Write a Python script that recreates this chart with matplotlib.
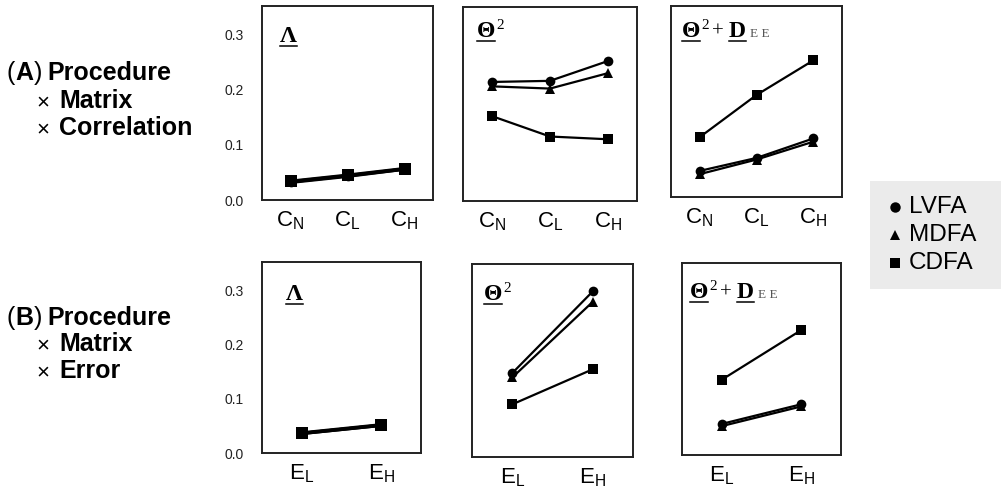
import matplotlib
matplotlib.use("Agg")
import matplotlib.pyplot as plt
from matplotlib.lines import Line2D
from matplotlib.patches import Rectangle
from matplotlib.transforms import IdentityTransform

plt.rcParams["font.family"] = ["Liberation Sans", "DejaVu Sans"]
plt.rcParams["mathtext.default"] = "regular"

W, H = 1001, 490

# categories
c_levels = ["$C_N$", "$C_L$", "$C_H$"]
e_levels = ["$E_L$", "$E_H$"]
methods = ["LVFA", "MDFA", "CDFA"]

# (A) procedure x matrix x correlation
lambda_c_lvfa = [0.032, 0.043, 0.056]
lambda_c_mdfa = [0.033, 0.044, 0.056]
lambda_c_cdfa = [0.034, 0.045, 0.057]
theta_c_lvfa = [0.216, 0.218, 0.254]
theta_c_mdfa = [0.208, 0.204, 0.232]
theta_c_cdfa = [0.154, 0.117, 0.112]
thetad_c_lvfa = [0.048, 0.072, 0.108]
thetad_c_mdfa = [0.042, 0.069, 0.102]
thetad_c_cdfa = [0.110, 0.188, 0.252]

# (B) procedure x matrix x error
lambda_e_lvfa = [0.036, 0.051]
lambda_e_mdfa = [0.036, 0.051]
lambda_e_cdfa = [0.037, 0.052]
theta_e_lvfa = [0.153, 0.302]
theta_e_mdfa = [0.145, 0.283]
theta_e_cdfa = [0.096, 0.160]
thetad_e_lvfa = [0.057, 0.093]
thetad_e_mdfa = [0.053, 0.089]
thetad_e_cdfa = [0.138, 0.229]

fig = plt.figure(figsize=(W / 100, H / 100), dpi=100, facecolor="white")
renderer = fig.canvas.get_renderer()


def add_box(left, top, right, bottom):
    return fig.add_axes([left / W, 1 - bottom / H, (right - left) / W, (bottom - top) / H])


def draw_panel(ax, levels, series, lw=1.6, msq=6.5, yticks=False):
    x = list(range(len(levels)))
    mk = {"LVFA": ("o", 7), "MDFA": ("^", 7.5), "CDFA": ("s", msq)}
    for name in ["MDFA", "LVFA", "CDFA"]:
        m, s = mk[name]
        ax.plot(x, series[name], color="black", lw=lw, marker=m, markersize=s,
                markeredgewidth=0, solid_capstyle="butt")
    ax.set_xlim(-0.5, len(levels) - 0.5)
    ax.set_ylim(0, 0.352)
    ax.set_xticks(x)
    ax.set_xticklabels(levels, fontsize=16)
    ax.tick_params(axis="x", length=0, pad=7)
    ax.set_yticks([0, 0.1, 0.2, 0.3])
    if yticks:
        ax.set_yticklabels(["0.0", "0.1", "0.2", "0.3"], fontsize=10, color="#222222")
        ax.tick_params(axis="y", length=0, pad=13)
    else:
        ax.tick_params(axis="y", length=0, labelleft=False)
    for sp in ax.spines.values():
        sp.set_linewidth(1.4)
        sp.set_color("#222222")


def text_run(x, base, pieces, family=None, underline_y=None):
    # pieces: (text, size, weight, rise, color, gap_before, underline); x, base in pixels from bottom-left
    for txt, size, weight, rise, color, gap, under in pieces:
        x += gap
        kw = {"family": family} if family else {}
        t = fig.text(x, base + rise, txt, transform=IdentityTransform(), fontsize=size,
                     fontweight=weight, color=color, ha="left", va="baseline", **kw)
        ext = t.get_window_extent(renderer)
        if under:
            fig.add_artist(Line2D([ext.x0, ext.x1], [base - 4, base - 4],
                                  transform=IdentityTransform(), color="black", lw=1.1))
        x = ext.x1


def draw_title(ax, dx, dy, pieces):
    bb = ax.get_position()
    text_run(bb.x0 * W + dx, bb.y1 * H - dy, pieces, family="Liberation Serif")


lam = [("Λ", 17, "bold", 0, "black", 0, True)]
theta = [("Θ", 17, "bold", 0, "black", 0, True),
         ("2", 11, "normal", 8, "black", 1, False)]
thetad = theta + [("+", 15, "normal", 0, "black", 3, False),
                  ("D", 17, "bold", 0, "black", 5, True),
                  ("E E", 9.5, "normal", 0, "#555555", 4, False)]

a1 = add_box(262, 6, 433, 200)
a2 = add_box(463, 7, 637, 201)
a3 = add_box(671, 6, 842, 197)
b1 = add_box(262, 262, 421, 453)
b2 = add_box(472, 264, 633, 457)
b3 = add_box(682, 263, 841, 455)

draw_panel(a1, c_levels, {"LVFA": lambda_c_lvfa, "MDFA": lambda_c_mdfa, "CDFA": lambda_c_cdfa},
           lw=2.4, msq=8.5, yticks=True)
draw_panel(a2, c_levels, {"LVFA": theta_c_lvfa, "MDFA": theta_c_mdfa, "CDFA": theta_c_cdfa})
draw_panel(a3, c_levels, {"LVFA": thetad_c_lvfa, "MDFA": thetad_c_mdfa, "CDFA": thetad_c_cdfa})
draw_panel(b1, e_levels, {"LVFA": lambda_e_lvfa, "MDFA": lambda_e_mdfa, "CDFA": lambda_e_cdfa},
           lw=2.4, msq=8, yticks=True)
draw_panel(b2, e_levels, {"LVFA": theta_e_lvfa, "MDFA": theta_e_mdfa, "CDFA": theta_e_cdfa})
draw_panel(b3, e_levels, {"LVFA": thetad_e_lvfa, "MDFA": thetad_e_mdfa, "CDFA": thetad_e_cdfa})

draw_title(a1, 18, 36, lam)
draw_title(a2, 14, 30, theta)
draw_title(a3, 11, 31, thetad)
draw_title(b1, 24, 38, lam)
draw_title(b2, 12, 36, theta)
draw_title(b3, 8, 35, thetad)


# left row labels (baselines in pixels from the top)
def row_label(bases, letter, rest):
    text_run(7, H - bases[0], [("(", 18, "normal", 0, "black", 0, False),
                               (letter, 18, "bold", 0, "black", 0, False),
                               (")", 18, "normal", 0, "black", 0, False),
                               ("Procedure", 18, "bold", 0, "black", 6, False)])
    for b, r in zip(bases[1:], rest):
        text_run(36, H - b, [("×", 16, "normal", 0, "black", 0, False),
                             (r, 18, "bold", 0, "black", 10, False)])


row_label([80, 108, 135], "A", ["Matrix", "Correlation"])
row_label([325, 351, 378], "B", ["Matrix", "Error"])

# legend
fig.add_artist(Rectangle((870 / W, 1 - 289 / H), 131 / W, 108 / H, transform=fig.transFigure,
                         facecolor="#ebebeb", edgecolor="none"))
leg_marks = ["o", "^", "s"]
for i, (name, m) in enumerate(zip(methods, leg_marks)):
    y = 1 - (207 + 28 * i) / H
    fig.add_artist(Line2D([895 / W], [y], transform=fig.transFigure, marker=m,
                          markersize=7.5, color="black", markeredgewidth=0, linestyle="none"))
    fig.text(909 / W, y, name, fontsize=17.5, ha="left", va="center")

fig.savefig("out.png", dpi=100, facecolor="white")
